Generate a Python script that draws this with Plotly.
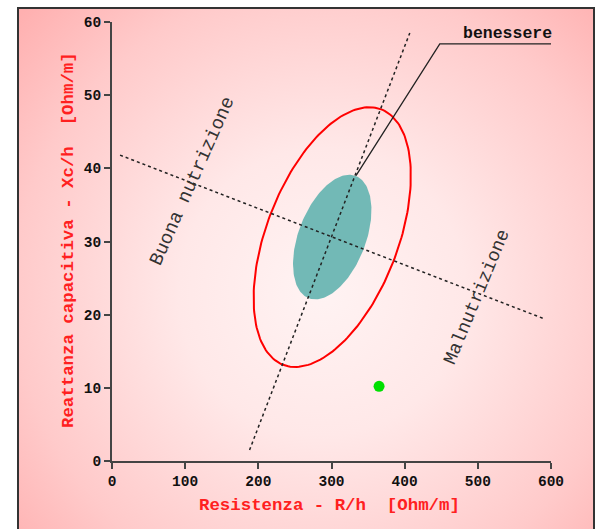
import base64
import numpy as np
import plotly.graph_objects as go

# ---- data (R in Ohm/m, Xc in Ohm/m) ----
axis_line1_R = [188, 407]
axis_line1_Xc = [1.5, 58.5]
axis_line2_R = [11, 589]
axis_line2_Xc = [41.8, 19.5]

ellipse_center = (301, 30.6)
ellipse_angle_deg = 69.0
outer_semi_axes = (18.7, 9.0)   # in Xc units (R scaled /10)
inner_semi_axes = (8.95, 4.6)

subject_R = [365]
subject_Xc = [10.2]

leader_R = [333.5, 448, 600]
leader_Xc = [39.0, 57.0, 57.0]

x_ticks = [0, 100, 200, 300, 400, 500, 600]
y_ticks = [0, 10, 20, 30, 40, 50, 60]


def ellipse(center, semi, angle_deg, n=200):
    t = np.linspace(0, 2 * np.pi, n)
    th = np.radians(angle_deg)
    a, b = semi
    u = a * np.cos(t) * np.cos(th) - b * np.sin(t) * np.sin(th)
    v = a * np.cos(t) * np.sin(th) + b * np.sin(t) * np.cos(th)
    return center[0] + 10 * u, center[1] + v


W, H = 598, 529
ML, MR, MT, MB = 112, 47, 22, 68
PW, PH = W - ML - MR, H - MT - MB

svg = f'''<svg xmlns="http://www.w3.org/2000/svg" width="{W}" height="{H}" viewBox="0 0 {W} {H}" preserveAspectRatio="none">
<defs><radialGradient id="g" gradientUnits="userSpaceOnUse" cx="322" cy="292" r="410">
<stop offset="0" stop-color="#fff3f3"/><stop offset="0.35" stop-color="#ffe8e8"/>
<stop offset="0.75" stop-color="#ffcaca"/><stop offset="1" stop-color="#ffb0b0"/></radialGradient></defs>
<rect x="0" y="0" width="{W}" height="{H}" fill="#ffffff"/>
<rect x="18" y="8" width="576" height="540" fill="url(#g)" stroke="#333333" stroke-width="2"/>
</svg>'''
src = "data:image/svg+xml;base64," + base64.b64encode(svg.encode()).decode()

fig = go.Figure()

ox, oy = ellipse(ellipse_center, outer_semi_axes, ellipse_angle_deg)
ix, iy = ellipse(ellipse_center, inner_semi_axes, ellipse_angle_deg)

fig.add_trace(go.Scatter(x=ix, y=iy, mode="lines", fill="toself",
                         fillcolor="#72b9b6", line=dict(width=0, color="#72b9b6")))
fig.add_trace(go.Scatter(x=ox, y=oy, mode="lines", line=dict(color="#ff0000", width=2)))
fig.add_trace(go.Scatter(x=axis_line1_R, y=axis_line1_Xc, mode="lines",
                         line=dict(color="#222222", width=1.5, dash="dot")))
fig.add_trace(go.Scatter(x=axis_line2_R, y=axis_line2_Xc, mode="lines",
                         line=dict(color="#222222", width=1.5, dash="dot")))
fig.add_trace(go.Scatter(x=leader_R, y=leader_Xc, mode="lines",
                         line=dict(color="#222222", width=1.3)))
fig.add_trace(go.Scatter(x=subject_R, y=subject_Xc, mode="markers",
                         marker=dict(color="#00e000", size=11, line=dict(width=0))))

mono = "Liberation Mono, Courier New, monospace"

fig.add_annotation(x=110, y=38.3, text="Buona nutrizione", textangle=-66, showarrow=False,
                   font=dict(family=mono, size=19, color="#333333"))
fig.add_annotation(x=499, y=22.4, text="Malnutrizione", textangle=-67.5, showarrow=False,
                   font=dict(family=mono, size=18.5, color="#333333"))
fig.add_annotation(x=541, y=58.4, text="<b>benessere</b>", showarrow=False,
                   font=dict(family=mono, size=16.5, color="#111111"))
fig.add_annotation(xref="paper", yref="paper", x=(57 - ML) / PW, y=(H - MB - 240.5) / PH,
                   text="<b>Reattanza capacitiva - Xc/h  [Ohm/m]</b>", textangle=-90,
                   showarrow=False, font=dict(family=mono, size=17.4, color="#ff2020"))
fig.add_annotation(xref="paper", yref="paper", x=(329 - ML) / PW, y=(H - MB - 517) / PH,
                   text="<b>Resistenza - R/h  [Ohm/m]</b>",
                   showarrow=False, font=dict(family=mono, size=17.4, color="#ff2020"))

fig.add_layout_image(source=src, xref="paper", yref="paper",
                     x=-ML / PW, y=1 + MT / PH, sizex=W / PW, sizey=H / PH,
                     xanchor="left", yanchor="top", sizing="stretch", layer="below")

axis_common = dict(showgrid=False, zeroline=False, showline=True, linecolor="#444444",
                   linewidth=2, ticks="outside", ticklen=6, tickwidth=2, tickcolor="#444444",
                   tickfont=dict(family=mono, size=14.5, color="#111111"))
fig.update_xaxes(range=[0, 600], tickvals=x_ticks, ticktext=[f"<b>{v}</b>" for v in x_ticks],
                 **axis_common)
fig.update_yaxes(range=[0, 60], tickvals=y_ticks, ticktext=[f"<b>{v}</b>" for v in y_ticks],
                 **axis_common)

fig.update_layout(width=W, height=H, margin=dict(l=ML, r=MR, t=MT, b=MB),
                  paper_bgcolor="white", plot_bgcolor="rgba(0,0,0,0)",
                  showlegend=False, hovermode=False)

fig.write_html("out.html", config={"displayModeBar": False, "staticPlot": True},
               post_script="document.body.style.margin='0';document.body.style.overflow='hidden';")
